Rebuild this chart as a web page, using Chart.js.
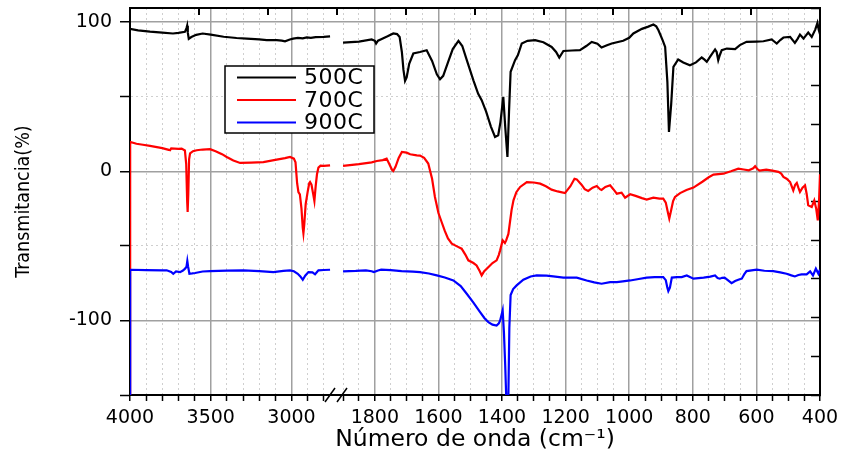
<!DOCTYPE html>
<html>
<head>
<meta charset="utf-8">
<script src="https://cdn.jsdelivr.net/npm/chart.js@4.4.0/dist/chart.umd.min.js"></script>
<style>
  body { margin: 0; background: #fff; }
  canvas { display: block; }
</style>
</head>
<body>
<canvas id="ftirChart" width="841" height="454"></canvas>
<script>
// spectra as [wavenumber cm-1, transmittance %], left part (4000-2750) and right part (1900-400)
var black500Left = [[4000,95.5],[3950,94.5],[3876,93.6],[3800,93],[3734,92.4],[3700,92.8],[3660,93.5],[3650,96],[3646,97.6],[3642,93],[3636,88.8],[3620,90],[3590,91.5],[3550,92.4],[3500,91.6],[3420,90.2],[3340,89.4],[3277,89],[3200,88.4],[3153,88],[3091,88],[3060,87.6],[3040,87.2],[3010,88.4],[2990,89],[2960,89.4],[2930,89.2],[2905,89.8],[2880,89.5],[2850,90],[2800,90.2],[2761,90.5]];
var black500Right = [[1900,86.3],[1850,87],[1810,88.4],[1800,87.5],[1796,85.7],[1790,87.6],[1780,88.6],[1760,90.5],[1742,92.4],[1730,92],[1722,90],[1715,80],[1710,68],[1705,60.6],[1700,63],[1692,72],[1679,79],[1658,80],[1637,81.2],[1620,74],[1605,65],[1595,61.7],[1585,64],[1570,73],[1555,82],[1537,87.5],[1525,84],[1510,74],[1490,61],[1475,52],[1464,47.7],[1450,40],[1435,30],[1422,23],[1412,24.2],[1405,33],[1396,49.9],[1390,30],[1383,9.6],[1378,40],[1373,66.7],[1359,74.5],[1350,78],[1338,85.7],[1320,87.5],[1296,87.9],[1270,86.5],[1244,83.4],[1230,80],[1220,76.3],[1207,80.7],[1180,81],[1155,81.2],[1135,84],[1118,86.8],[1100,85.6],[1087,83],[1070,84.5],[1055,85.7],[1019,87.5],[1000,89.5],[987,92.4],[960,95.5],[940,97],[924,98.4],[915,97.2],[908,94.6],[895,88],[887,83.4],[880,60],[875,26.4],[868,45],[861,70],[846,75],[830,73],[809,71.1],[790,73],[772,76.3],[764,75],[756,73.4],[745,77],[730,81.7],[725,80],[720,74.5],[715,78],[709,81.2],[693,82.3],[667,82],[652,84.6],[631,86.8],[600,87],[578,87.2],[552,88.4],[536,85.7],[525,88],[515,89.7],[494,90.1],[479,86.1],[470,89],[463,91.7],[452,89],[437,93],[426,90.1],[415,95],[408,99.5],[404,95],[400,92]];

var red700Left = [[4000,-150],[3999,19.7],[3960,18.5],[3920,17.8],[3876,17],[3800,15.5],[3760,14.4],[3752,14.1],[3745,15.3],[3700,15],[3680,15.2],[3660,14],[3652,5],[3646,-20],[3643,-27.3],[3639,-15],[3634,8],[3628,12],[3610,13.5],[3587,14.1],[3550,14.6],[3504,14.8],[3470,13.5],[3430,11.5],[3401,9.6],[3360,7.2],[3318,5.6],[3250,5.8],[3174,6.2],[3100,7.7],[3040,8.8],[3009,9.6],[2985,8.5],[2975,6],[2965,-8],[2957,-13.9],[2948,-15.5],[2938,-25],[2930,-38],[2926,-41.6],[2921,-36],[2912,-22],[2900,-14],[2890,-8],[2885,-7.2],[2876,-9],[2866,-15],[2858,-19.9],[2850,-10],[2842,-2],[2833,2.5],[2820,3.8],[2800,3.6],[2761,4]];
var red700Right = [[1900,3.6],[1850,4.8],[1810,6],[1794,6.9],[1775,7.5],[1763,8.5],[1755,5],[1746,1],[1742,0.2],[1735,3],[1725,9],[1715,13],[1700,12.5],[1689,11.4],[1668,10.7],[1658,10.5],[1645,9],[1632,5.2],[1620,-5],[1611,-17.2],[1600,-28],[1590,-34],[1580,-40],[1570,-45],[1558,-48.5],[1540,-50.5],[1527,-51.9],[1515,-56],[1506,-59.7],[1490,-61.5],[1480,-63.1],[1470,-67],[1464,-69.8],[1456,-67],[1448,-65.3],[1430,-61.5],[1417,-59.7],[1410,-56],[1406,-53],[1398,-46.3],[1391,-48.1],[1387,-46.3],[1380,-42],[1375,-34],[1370,-26],[1364,-19.5],[1355,-14],[1343,-10.5],[1322,-7.2],[1300,-7.5],[1280,-8.3],[1262,-10],[1244,-12.3],[1225,-13.5],[1202,-14.6],[1185,-10],[1172,-5],[1165,-5.4],[1150,-9],[1140,-12],[1129,-13.2],[1115,-11],[1102,-9.9],[1092,-12],[1087,-12.5],[1075,-10.5],[1060,-9.4],[1050,-12],[1039,-15],[1024,-14.3],[1013,-17.7],[997,-15.4],[980,-16.5],[960,-18],[945,-19],[924,-17.7],[905,-18.3],[893,-18.3],[885,-21],[878,-28],[874,-31.7],[868,-26],[862,-20],[856,-17.2],[840,-14.6],[820,-12.5],[798,-10.9],[770,-7],[750,-4],[735,-2.2],[704,-1.6],[680,0],[657,1.8],[640,1.2],[624,0.7],[610,2],[604,3.4],[597,1.5],[590,0.4],[569,1.1],[550,0.5],[531,-0.4],[522,-1.5],[515,-3.8],[505,-5],[494,-7.2],[484,-12.8],[478,-9],[473,-7.8],[468,-11],[463,-13.9],[455,-11],[447,-9.4],[442,-15],[437,-22.8],[426,-23.9],[418,-19.5],[412,-25],[407,-32.9],[403,-20],[400,-2]];

var blue900Left = [[4000,-150],[3999,-66],[3900,-66.2],[3800,-66.4],[3773,-66.4],[3745,-67.5],[3732,-68.7],[3715,-67.2],[3690,-67.6],[3672,-66.5],[3659,-65.3],[3650,-64],[3645,-60.2],[3640,-64],[3632,-68.7],[3615,-68.5],[3597,-68.2],[3550,-67.2],[3504,-66.9],[3400,-66.6],[3298,-66.4],[3200,-67],[3112,-67.6],[3050,-66.8],[3009,-66.4],[2985,-67],[2961,-68.7],[2945,-70.5],[2930,-72.7],[2915,-70],[2895,-67.6],[2870,-67.8],[2854,-69.1],[2842,-67.5],[2833,-66.4],[2800,-66.2],[2761,-66]];
var blue900Right = [[1900,-67.1],[1860,-66.8],[1828,-66.4],[1810,-67],[1803,-67.6],[1790,-66.5],[1780,-66],[1750,-66.3],[1716,-66.9],[1680,-67.3],[1658,-67.6],[1630,-68.5],[1605,-69.8],[1580,-71.2],[1553,-73.2],[1530,-77],[1511,-82.1],[1490,-88],[1469,-94.4],[1455,-98.5],[1443,-101.1],[1430,-102.8],[1417,-103.4],[1410,-102],[1406,-100],[1398,-93.3],[1394,-108],[1390,-130],[1387,-150],[1380,-150],[1377,-105],[1373,-83],[1365,-79],[1354,-76.5],[1333,-72.7],[1310,-70.5],[1291,-69.8],[1260,-70],[1239,-70.5],[1207,-71.3],[1165,-71.3],[1134,-73.2],[1110,-74.5],[1087,-75.4],[1060,-74.3],[1039,-74.3],[1020,-73.8],[997,-73.2],[970,-72.2],[945,-71.3],[920,-71],[893,-70.9],[885,-73],[880,-78],[877,-80.3],[872,-78],[866,-71.3],[850,-71],[835,-70.9],[819,-69.8],[798,-72],[766,-71.3],[745,-70.6],[730,-69.8],[722,-71.5],[715,-72],[708,-71.4],[700,-71.3],[690,-73],[678,-75],[667,-73.6],[657,-72.7],[646,-72],[638,-69],[631,-66.9],[599,-66],[575,-66.7],[547,-66.9],[525,-67.8],[505,-68.7],[490,-69.8],[479,-70.5],[468,-69.5],[458,-69.1],[442,-69.1],[431,-67.1],[422,-69.8],[413,-65.3],[405,-68.7],[400,-66]];

var seriesLabels = ['500C', '700C', '900C'];
var seriesColors = ['#000000', '#ff0000', '#0000ff'];
var leftTickLabels = [4000, 3500, 3000];
var rightTickLabels = [1800, 1600, 1400, 1200, 1000, 800, 600, 400];
var yTickLabels = [-100, 0, 100];

function toXY(pairs) {
  return pairs.map(function (p) { return { x: p[0], y: p[1] }; });
}

function segment(i, pairs, axisId) {
  return {
    label: seriesLabels[i],
    data: toXY(pairs),
    xAxisID: axisId,
    yAxisID: 'y',
    borderColor: seriesColors[i],
    borderWidth: 2.2,
    pointRadius: 0,
    tension: 0,
    fill: false,
    order: 3 - i
  };
}

var datasets = [
  segment(0, black500Left, 'xL'), segment(0, black500Right, 'xR'),
  segment(1, red700Left, 'xL'), segment(1, red700Right, 'xR'),
  segment(2, blue900Left, 'xL'), segment(2, blue900Right, 'xR')
];

var tickFont = { family: 'DejaVu Sans', size: 19 };

function isMajor(labels, c) {
  return c.tick && labels.indexOf(c.tick.value) >= 0;
}
function gridColor(labels, edges) {
  return function (c) {
    if (c.tick && edges.indexOf(c.tick.value) >= 0) return 'rgba(0,0,0,0)';
    return isMajor(labels, c) ? '#a0a0a0' : '#cfcfcf';
  };
}
function gridWidth(labels) {
  return function (c) { return isMajor(labels, c) ? 1.5 : 1; };
}
function gridDash(labels) {
  return function (c) {
    if (!c.tick) return [];
    return isMajor(labels, c) ? [] : [2, 3];
  };
}
function onlyLabels(labels) {
  return function (value) {
    return labels.indexOf(value) >= 0 ? String(value) : '';
  };
}

// top frame line with its inward ticks, and the "//" where the wavenumber axis is broken
var frameMarks = {
  id: 'frameMarks',
  afterDraw: function (chart) {
    var ctx = chart.ctx;
    var a = chart.chartArea;
    var top = Math.round(a.top);
    ctx.save();
    ctx.fillStyle = '#000';
    ctx.fillRect(a.left - 1, top - 1, a.right - a.left + 2, 2);
    for (var k = 1; k < 10; k++) {
      var tx = Math.round(a.left + k * (a.right - a.left) / 10);
      ctx.fillRect(tx - 1, top, 2, 7);
    }
    ctx.strokeStyle = '#000';
    ctx.lineWidth = 1.5;
    var x = chart.scales.xL.right;
    var y = a.bottom;
    [-7, 5].forEach(function (dx) {
      ctx.beginPath();
      ctx.moveTo(x + dx - 5, y + 7);
      ctx.lineTo(x + dx + 5, y - 7);
      ctx.stroke();
    });
    ctx.restore();
  }
};

var boxLegend = {
  id: 'boxLegend',
  afterDatasetsDraw: function (chart) {
    var ctx = chart.ctx;
    var bx = 225, by = 66, bw = 149, bh = 67;
    ctx.save();
    ctx.fillStyle = '#fff';
    ctx.fillRect(bx, by, bw, bh);
    ctx.strokeStyle = '#000';
    ctx.lineWidth = 1.5;
    ctx.strokeRect(bx, by, bw, bh);
    ctx.font = '22px "DejaVu Sans"';
    ctx.textBaseline = 'middle';
    ctx.fillStyle = '#000';
    if ('letterSpacing' in ctx) ctx.letterSpacing = '0.5px';
    seriesLabels.forEach(function (lab, i) {
      var ly = by + 11.5 + i * 22.5;
      ctx.strokeStyle = seriesColors[i];
      ctx.lineWidth = 2;
      ctx.beginPath();
      ctx.moveTo(237, ly);
      ctx.lineTo(296, ly);
      ctx.stroke();
      ctx.fillText(lab, 304, ly + 1);
    });
    ctx.restore();
  }
};

new Chart(document.getElementById('ftirChart').getContext('2d'), {
  type: 'line',
  data: { datasets: datasets },
  plugins: [frameMarks, boxLegend],
  options: {
    responsive: false,
    animation: false,
    layout: { padding: { left: 0, right: 21, top: 8, bottom: 0 } },
    plugins: { legend: { display: false }, tooltip: { enabled: false } },
    scales: {
      xL: {
        type: 'linear', position: 'bottom', stack: 'wn', stackWeight: 207,
        min: 2718, max: 4000, reverse: true,
        ticks: { stepSize: 100, autoSkip: false, includeBounds: false, maxRotation: 0,
                 padding: 6, color: '#000', font: tickFont, callback: onlyLabels(leftTickLabels) },
        grid: { color: gridColor(leftTickLabels, [4000]), lineWidth: gridWidth(leftTickLabels),
                tickLength: 6, tickColor: '#000', tickWidth: 1.5 },
        border: { color: '#000', width: 2, dash: gridDash(leftTickLabels) },
        afterFit: function (s) { s.height = 30; s.paddingLeft = 0; s.paddingRight = 0; }
      },
      xR: {
        type: 'linear', position: 'bottom', stack: 'wn', stackWeight: 483,
        min: 400, max: 1919, reverse: true,
        ticks: { stepSize: 50, autoSkip: false, includeBounds: false, maxRotation: 0,
                 padding: 6, color: '#000', font: tickFont, callback: onlyLabels(rightTickLabels) },
        grid: { color: gridColor(rightTickLabels, [400]), lineWidth: gridWidth(rightTickLabels),
                tickLength: 6, tickColor: '#000', tickWidth: 1.5 },
        border: { color: '#000', width: 2, dash: gridDash(rightTickLabels) },
        afterFit: function (s) { s.height = 30; s.paddingLeft = 0; s.paddingRight = 0; }
      },
      xTitle: {
        type: 'linear', position: 'bottom', weight: 1, min: 0, max: 1,
        ticks: { display: false },
        grid: { display: false },
        border: { display: false },
        title: { display: true, text: 'Número de onda (cm⁻¹)', color: '#000',
                 font: { family: 'DejaVu Sans', size: 23.5, lineHeight: 1.2 }, padding: 0 },
        afterFit: function (s) { s.height = 29; }
      },
      y: {
        type: 'linear', position: 'left', min: -150, max: 109.5,
        ticks: { stepSize: 50, includeBounds: false, padding: 8, color: '#000', font: tickFont,
                 callback: onlyLabels(yTickLabels) },
        grid: { color: gridColor(yTickLabels, [-150]), lineWidth: gridWidth(yTickLabels),
                tickLength: 10, tickColor: '#000', tickWidth: 1.5 },
        border: { color: '#000', width: 2, dash: gridDash(yTickLabels) },
        title: { display: true, text: 'Transmitancia(%)', color: '#000',
                 font: { family: '"DejaVu Sans Condensed", "DejaVu Sans"', size: 19.5, lineHeight: 1.2 },
                 padding: { top: 12, bottom: 0 } },
        afterFit: function (s) { s.width = 130; s.paddingTop = 0; s.paddingBottom = 0; }
      },
      yR: {
        type: 'linear', position: 'right', min: 0, max: 10,
        ticks: { display: false, stepSize: 1 },
        grid: { drawOnChartArea: false, tickLength: -9, tickColor: '#000', tickWidth: 1.5 },
        border: { color: '#000', width: 2 },
        afterFit: function (s) { s.width = 0; s.paddingTop = 0; s.paddingBottom = 0; }
      }
    }
  }
});
</script>
</body>
</html>
